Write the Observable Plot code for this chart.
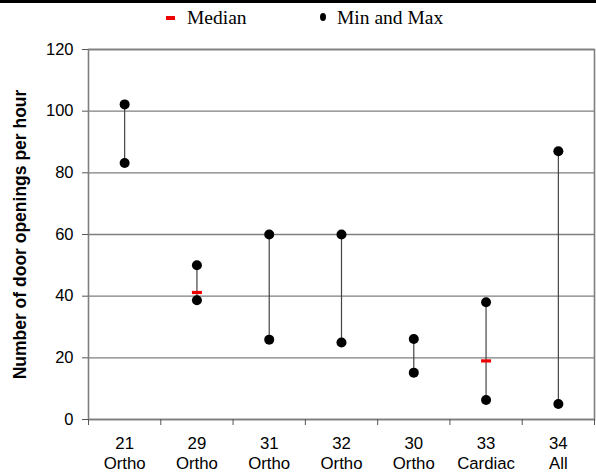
<!DOCTYPE html>
<html>
<head>
<meta charset="utf-8">
<script src="https://cdn.jsdelivr.net/npm/d3@7"></script>
<script src="https://cdn.jsdelivr.net/npm/@observablehq/plot@0.6"></script>
<style>
  body { margin: 0; background: #fff; width: 596px; overflow: hidden; }
  #topbar { height: 3px; background: #000; }
  #legend { position: relative; height: 33px; font-family: "Liberation Serif", serif; font-size: 19.5px; color: #000; }
  #legend .sw-med { position: absolute; left: 166px; top: 13px; width: 9px; height: 4px; background: #e00; }
  #legend .sw-dot { position: absolute; left: 320px; top: 10px; width: 6px; height: 8px; border-radius: 50%; background: #000; }
  #legend .lab { position: absolute; top: 4px; line-height: 22px; }
</style>
</head>
<body>
<div id="topbar"></div>
<div id="legend">
  <div class="sw-med"></div><div class="lab" style="left:187px">Median</div>
  <div class="sw-dot"></div><div class="lab" style="left:337px">Min and Max</div>
</div>
<div id="chart"></div>
<script>
const units = ["21", "29", "31", "32", "30", "33", "34"];
const types = ["Ortho", "Ortho", "Ortho", "Ortho", "Ortho", "Cardiac", "All"];
const maxVals = [102.2, 50, 60, 60, 26.1, 38, 87];
const minVals = [83.2, 38.7, 25.9, 25, 15.2, 6.3, 5];
const medians = [null, 41.2, null, null, null, 19, null];
const yTicks = [0, 20, 40, 60, 80, 100, 120];
const yLabel = "Number of door openings per hour";

const rows = units.map((u, i) => ({
  pos: i + 0.5,
  unit: u,
  type: types[i],
  min: minVals[i],
  max: maxVals[i],
  median: medians[i]
}));
const medRows = rows.filter(d => d.median != null);
const boundaries = d3.range(units.length + 1);
const centers = rows.map(d => d.pos);

const medSymbol = { draw(ctx) { ctx.rect(-5, -1.6, 10, 3.2); } };

const chart = Plot.plot({
  width: 596,
  height: 440,
  marginTop: 13,
  marginBottom: 57,
  marginLeft: 88,
  marginRight: 2,
  style: { fontFamily: "Liberation Sans, Arial, sans-serif", fontSize: "16px", color: "#000", background: "#fff" },
  x: { domain: [0, units.length] },
  y: { domain: [0, 120] },
  marks: [
    Plot.gridY(yTicks, { stroke: "#7f7f7f", strokeOpacity: 1, strokeWidth: 1.4 }),
    Plot.frame({ stroke: "#7f7f7f", strokeWidth: 1.6 }),
    Plot.axisY(yTicks, { tickSize: 6, tickPadding: 9, fontSize: 16.5, label: null, stroke: "#555" }),
    Plot.axisX(boundaries, { tickSize: 6, tickFormat: () => "", label: null, stroke: "#555" }),
    Plot.axisX(centers, {
      tickSize: 0, tickPadding: 15, fontSize: 16.8, lineHeight: 1.2, label: null,
      tickFormat: p => { const r = rows.find(d => d.pos === p); return r.unit + "\n" + r.type; }
    }),
    Plot.text([yLabel], { frameAnchor: "left", textAnchor: "middle", rotate: -90, dx: -68, fontWeight: "bold", fontSize: 17.5, fill: "#000" }),
    Plot.ruleX(rows, { x: "pos", y1: "min", y2: "max", stroke: "#444", strokeWidth: 1.2 }),
    Plot.dot(rows, { x: "pos", y: "max", r: 5, fill: "#000" }),
    Plot.dot(rows, { x: "pos", y: "min", r: 5, fill: "#000" }),
    Plot.dot(medRows, { x: "pos", y: "median", symbol: medSymbol, fill: "#e00", stroke: "none" })
  ]
});
document.getElementById("chart").appendChild(chart);
</script>
</body>
</html>
